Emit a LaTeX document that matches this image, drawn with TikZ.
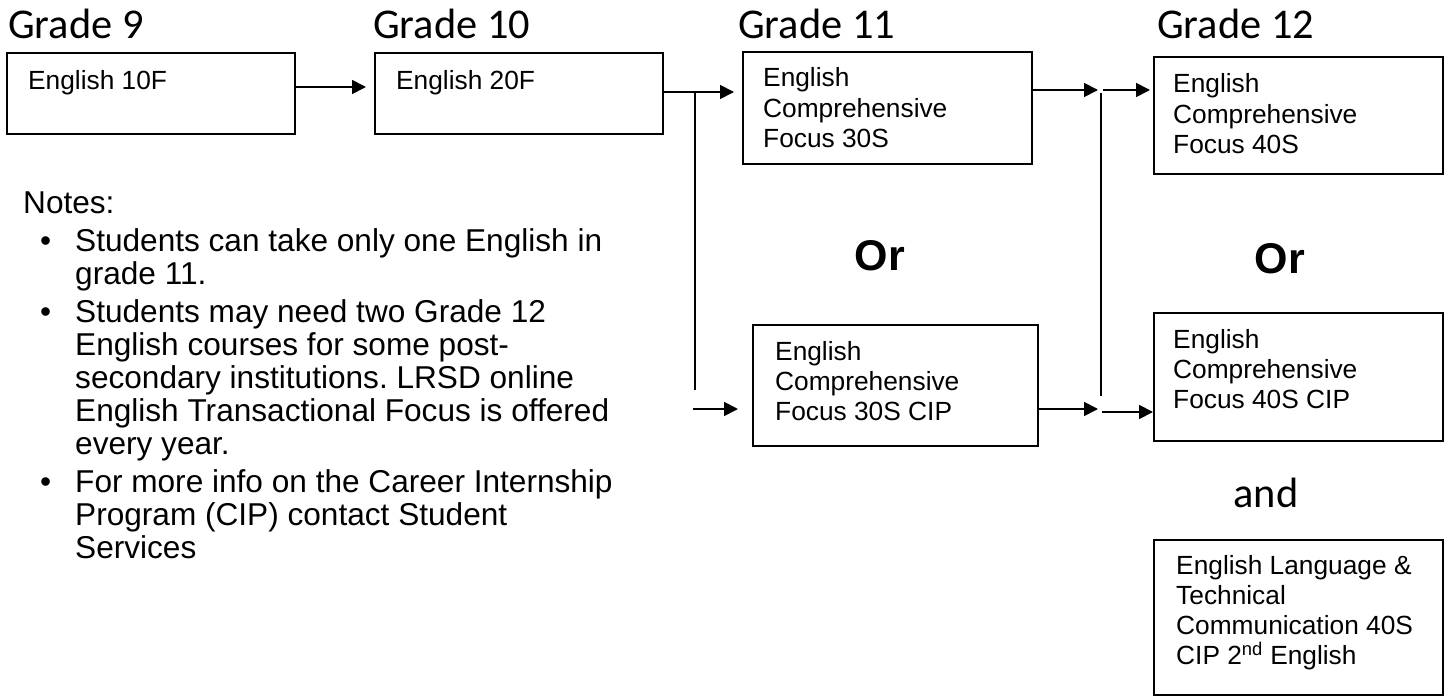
\documentclass[tikz,border=0pt]{standalone}
\usepackage{fontspec}
\setmainfont{Liberation Sans}
\newfontfamily\calfont{Carlito}
\usetikzlibrary{arrows.meta}
\frenchspacing
\newcommand{\mylines}[1]{\parbox[t]{700pt}{\raggedright\frenchspacing #1}}
\begin{document}
\begin{tikzpicture}[x=1pt,y=-1pt,
 box/.style={draw=black, line width=1.8pt, anchor=north west, inner sep=0pt, outer sep=0pt},
 btext/.style={anchor=base west, inner sep=0pt, font=\fontsize{26.3}{30.2}\selectfont},
 grade/.style={anchor=base west, inner sep=0pt, font=\calfont\fontsize{42.4}{50}\selectfont},
 andtext/.style={anchor=base, inner sep=0pt, font=\calfont\fontsize{42.4}{50}\selectfont},
 arr/.style={line width=1.8pt, -{Triangle[length=14pt,width=14pt]}},
 conn/.style={line width=1.8pt},
 ortext/.style={anchor=base, inner sep=0pt, font=\bfseries\fontsize{43}{50}\selectfont},
 note/.style={anchor=base west, inner sep=0pt, font=\fontsize{31.6}{33}\selectfont}
]
\useasboundingbox (0,0) rectangle (1448,698);

% grade headings
\node[grade] (g9)  at (8,39)    {Grade 9};
\node[grade] (g10) at (373,39)  {Grade 10};
\node[grade] (g11) at (738,39)  {Grade 11};
\node[grade] (g12) at (1157,39) {Grade 12};

% boxes
\node[box, minimum width=288pt, minimum height=81pt]  (b1) at (7,53)    {};
\node[box, minimum width=288pt, minimum height=81pt]  (b2) at (375,53)  {};
\node[box, minimum width=289pt, minimum height=112pt] (b3) at (743,52)  {};
\node[box, minimum width=289pt, minimum height=117pt] (b4) at (1154,57) {};
\node[box, minimum width=285pt, minimum height=121pt] (b5) at (753,325) {};
\node[box, minimum width=289pt, minimum height=128pt] (b6) at (1154,313) {};
\node[box, minimum width=289pt, minimum height=155pt] (b7) at (1154,540) {};

% box texts
\node[btext] (t1) at ([xshift=21pt,yshift=-37pt]b1.north west) {\mylines{English 10F}};
\node[btext] (t2) at ([xshift=21pt,yshift=-37pt]b2.north west) {\mylines{English 20F}};
\node[btext] (t3) at ([xshift=20pt,yshift=-35pt]b3.north west) {\mylines{English\\Comprehensive\\Focus 30S}};
\node[btext] (t4) at ([xshift=19pt,yshift=-36pt]b4.north west) {\mylines{English\\Comprehensive\\Focus 40S}};
\node[btext] (t5) at ([xshift=22pt,yshift=-35pt]b5.north west) {\mylines{English\\Comprehensive\\Focus 30S CIP}};
\node[btext] (t6) at ([xshift=19pt,yshift=-35pt]b6.north west) {\mylines{English\\Comprehensive\\Focus 40S CIP}};
\node[btext] (t7) at ([xshift=22pt,yshift=-34pt]b7.north west) {\mylines{English Language \&\\Technical\\Communication 40S\\CIP 2\textsuperscript{nd} English}};

% Or / and
\node[ortext] (or1) at (880,270)  {Or};
\node[ortext] (or2) at (1280,273) {Or};
\node[andtext] (and) at (1266,507) {and};

% connector coordinates
\coordinate (j1)  at (695,92);
\coordinate (j1b) at (695,390);
\coordinate (s3)  at (693,409);
\coordinate (m1)  at (1098,90);
\coordinate (s5)  at (1103,90);
\coordinate (j2)  at (1101,93);
\coordinate (j2b) at (1101,396);
\coordinate (m2)  at (1098,409);
\coordinate (s7)  at (1102,412);

% connectors
\draw[arr] ([yshift=-34pt]b1.north east) -- ([xshift=-9pt,yshift=-34pt]b2.north west);
\draw[arr] ([yshift=-39pt]b2.north east) -- ([xshift=-9pt,yshift=-40pt]b3.north west);
\draw[conn] (j1) -- (j1b);
\draw[arr] (s3) -- ([xshift=-15pt,yshift=-84pt]b5.north west);
\draw[arr] ([yshift=-38pt]b3.north east) -- (m1);
\draw[arr] (s5) -- ([xshift=-4pt,yshift=-33pt]b4.north west);
\draw[conn] (j2) -- (j2b);
\draw[arr] ([yshift=-84pt]b5.north east) -- (m2);
\draw[arr] (s7) -- ([xshift=-1pt,yshift=-99pt]b6.north west);

% notes
\node[note] (notes) at (23,213) {Notes:};
\node[note] (d1) at (40,251) {\textbullet};
\node[note] (n1) at (75,251) {\mylines{Students can take only one English in\\grade 11.}};
\node[note] (d2) at (40,322) {\textbullet};
\node[note] (n2) at (75,322) {\mylines{Students may need two Grade 12\\English courses for some post-\\secondary institutions. LRSD online\\English Transactional Focus is offered\\every year.}};
\node[note] (d3) at (40,492) {\textbullet};
\node[note] (n3) at (75,492) {\mylines{For more info on the Career Internship\\Program (CIP) contact Student\\Services}};
\end{tikzpicture}
\end{document}
